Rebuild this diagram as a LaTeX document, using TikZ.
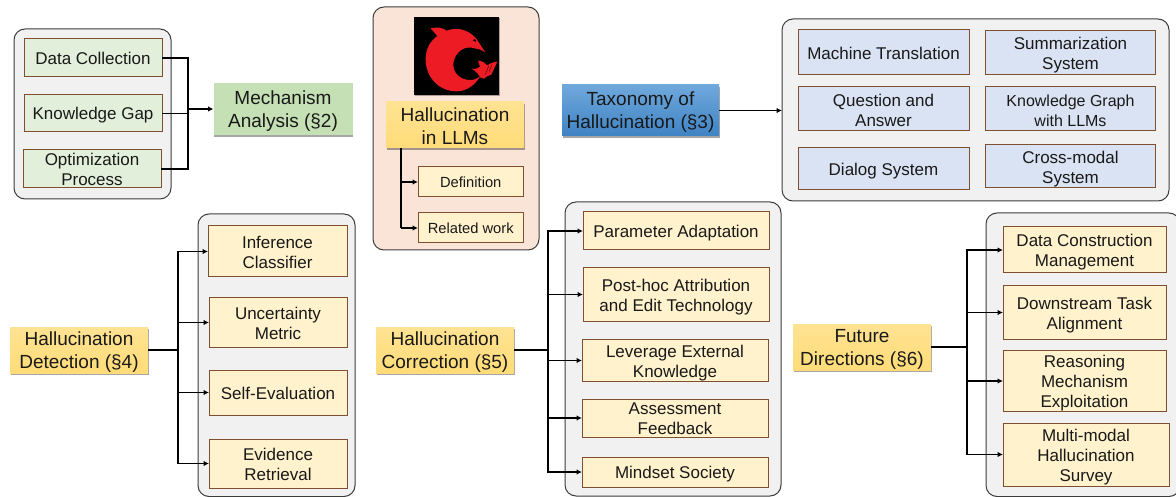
\documentclass[tikz,border=0pt]{standalone}
\usepackage{fontspec}
\setmainfont{Liberation Sans}
\usetikzlibrary{arrows.meta,shadows}
\definecolor{edgebrown}{HTML}{7F4F2F}
\definecolor{panelgray}{HTML}{F1F1F1}
\definecolor{paneledge}{HTML}{3C3C3C}
\definecolor{greenitem}{HTML}{E2EFDA}
\definecolor{greenhead}{HTML}{C5E0B4}
\definecolor{yellowitem}{HTML}{FFF2CC}
\definecolor{yellowtop}{HTML}{FFE393}
\definecolor{yellowbot}{HTML}{FFDC78}
\definecolor{blueitem}{HTML}{DAE3F3}
\definecolor{bluetop}{HTML}{6FA8DC}
\definecolor{bluebot}{HTML}{3F83C4}
\definecolor{pinkpanel}{HTML}{FAE3D7}
\definecolor{logored}{HTML}{ED1C24}
\tikzset{
  x=1pt,y=-1pt,
  boxbase/.style={inner sep=0pt,outer sep=0pt,align=center,text=black!90},
  smalltext/.style={font=\fontsize{17}{20}\selectfont},
  tinytext/.style={font=\fontsize{14.7}{18}\selectfont},
  bigtext/.style={font=\fontsize{19}{23}\selectfont},
  softshadow/.style={drop shadow={shadow xshift=0.6pt,shadow yshift=-1.6pt,opacity=.35,fill=black}},
  panel/.style={draw=paneledge,line width=1pt,fill=panelgray,rounded corners=11pt},
  pinkbox/.style={draw=paneledge,line width=1pt,fill=pinkpanel,rounded corners=11pt},
  greenbox/.style={boxbase,smalltext,draw=edgebrown,line width=1pt,fill=greenitem},
  yellowbox/.style={boxbase,smalltext,draw=edgebrown,line width=1pt,fill=yellowitem},
  tinybox/.style={boxbase,tinytext,draw=edgebrown,line width=1pt,fill=yellowitem},
  bluebox/.style={boxbase,smalltext,draw=edgebrown,line width=1pt,fill=blueitem},
  greenhead/.style={boxbase,bigtext,fill=greenhead,softshadow},
  yellowhead/.style={boxbase,bigtext,top color=yellowtop,bottom color=yellowbot,softshadow},
  bluehead/.style={boxbase,bigtext,top color=bluetop,bottom color=bluebot,softshadow},
  link/.style={line width=1.2pt,black},
  arrowlink/.style={link,-{Latex[length=5.5pt,width=5.5pt]}},
  stem/.style={line width=2pt,black},
}
% [text drop], name, x1, y1, x2, y2, style, text
\newcommand\bx[8][0]{\node[#7,minimum width=#5pt-#3pt,minimum height=#6pt-#4pt] (#2) at ({(#3+#5)/2},{(#4+#6)/2}) {\rule{0pt}{\dimexpr 0.73em+2\dimexpr #1pt\relax\relax}#8};}
\begin{document}
\begin{tikzpicture}
\useasboundingbox (0,0) rectangle (1176,497);
\clip (0,0) rectangle (1176,497);
% panels
\draw[panel] (14,29) rectangle (171,199);
\draw[pinkbox] (373,7) rectangle (539,250);
\draw[panel] (782,19) rectangle (1169,201);
\draw[panel] (198,214) rectangle (355,496.5);
\draw[panel] (565,202) rectangle (781,496);
\draw[panel] (986,213) rectangle (1180,496.5);
% logo
\fill[black,drop shadow={shadow xshift=0.6pt,shadow yshift=-1.2pt,opacity=.3,fill=black}] (414,17) rectangle (499,95);
\begin{scope}[shift={(400,0)},x=0.3333pt,y=-0.3333pt]
  \fill[logored] (92,85) .. controls (110,80) and (125,82) .. (140,92)
    .. controls (175,78) and (218,92) .. (238,130)
    .. controls (245,140) and (250,148) .. (256,157)
    .. controls (245,150) and (235,146) .. (224,145)
    .. controls (195,135) and (165,155) .. (160,190)
    .. controls (158,218) and (180,240) .. (210,240)
    .. controls (222,240) and (232,236) .. (240,230)
    .. controls (225,255) and (200,274) .. (170,274)
    .. controls (115,274) and (77,230) .. (77,178)
    .. controls (77,150) and (88,125) .. (112,108)
    .. controls (105,100) and (98,92) .. (92,85) -- cycle;
  \fill[logored] (214,206) .. controls (225,208) and (233,206) .. (240,200)
    -- (234,182) .. controls (245,182) and (255,188) .. (262,196)
    .. controls (270,190) and (280,186) .. (292,185)
    -- (274,224) .. controls (265,226) and (258,230) .. (252,236)
    -- (240,232) .. controls (236,222) and (226,212) .. (214,206) -- cycle;
  \fill[black] (218,121) -- (225,117) -- (229,126) -- cycle;
  \draw[black,line width=.25pt] (266,198) -- (256,224) (276,194) -- (267,216);
\end{scope}
% section heads
\bx[1.8]{mech}{213.5}{83}{352.5}{135}{greenhead}{Mechanism\\Analysis (§2)}
\bx[0.7]{hal}{386}{102}{524}{148}{yellowhead}{Hallucination\\in LLMs}
\bx[1.7]{tax}{562}{85}{719}{136}{bluehead}{Taxonomy of\\Hallucination (§3)}
\bx[2.2]{det}{10}{327}{148}{373}{yellowhead}{Hallucination\\Detection (§4)}
\bx[2.2]{cor}{376}{327}{514}{373}{yellowhead}{Hallucination\\Correction (§5)}
\bx[2]{fut}{793}{324}{931}{370}{yellowhead}{Future\\Directions (§6)}
% mechanism items
\bx{dc}{24}{39}{162}{77}{greenbox}{Data Collection}
\bx[2]{kg}{24}{95}{162}{132}{greenbox}{Knowledge Gap}
\bx{op}{23}{150}{161}{188}{greenbox}{Optimization\\Process}
% hallucination items
\bx{def}{418}{167}{523.5}{197}{tinybox}{Definition}
\bx{rel}{418}{213}{523.5}{243}{tinybox}{Related work}
% taxonomy items
\bx[1]{mt}{798}{30}{969}{75}{bluebox}{Machine Translation}
\bx[2]{sum}{985.5}{31}{1155.5}{75}{bluebox}{Summarization\\System}
\bx[1]{qa}{798}{87}{969}{131}{bluebox}{Question and\\Answer}
\bx[1.5]{kgl}{985.5}{87}{1155.5}{131}{bluebox}{\fontsize{16}{20}\selectfont Knowledge Graph\\\fontsize{16}{20}\selectfont with LLMs}
\bx[2]{dia}{798}{148}{969}{190}{bluebox}{Dialog System}
\bx[3]{cross}{985.5}{145}{1155.5}{188}{bluebox}{Cross-modal\\System}
% detection items
\bx[1]{inf}{208}{226}{347}{277}{yellowbox}{Inference\\Classifier}
\bx[1]{unc}{209}{298}{347}{347}{yellowbox}{Uncertainty\\Metric}
\bx[1]{self}{209}{370}{347}{415}{yellowbox}{Self-Evaluation}
\bx[1]{evi}{209}{439}{347}{488}{yellowbox}{Evidence\\Retrieval}
% correction items
\bx[2]{par}{583}{212}{769}{250}{yellowbox}{Parameter Adaptation}
\bx[3]{post}{583}{268}{769}{321}{yellowbox}{Post-hoc Attribution\\and Edit Technology}
\bx[3]{lev}{582}{340}{768}{381}{yellowbox}{Leverage External\\Knowledge}
\bx[0.4]{ass}{582}{399}{768}{437}{yellowbox}{Assessment\\Feedback}
\bx[2]{mind}{582}{457}{768}{487}{yellowbox}{Mindset Society}
% future items
\bx[2]{dat}{1003}{227}{1166}{273}{yellowbox}{Data Construction\\Management}
\bx[3]{down}{1003}{286}{1166}{339}{yellowbox}{Downstream Task\\Alignment}
\bx[2.5]{rea}{1003}{351}{1166}{411}{yellowbox}{Reasoning\\Mechanism\\Exploitation}
\bx[3]{mul}{1003}{423}{1169}{486}{yellowbox}{Multi-modal\\Hallucination\\Survey}
% bus coordinates
\coordinate (busm) at (188,109);
\coordinate (bush) at (401,182);
\coordinate (busd) at (178,350);
\coordinate (busc) at (548,350);
\coordinate (busf) at (967,347);
% connectors
\draw[link] (dc.east) -- (busm |- dc.east) -- (busm |- op.east) -- (op.east);
\draw[link] (kg.east) -- (busm |- kg.east);
\draw[arrowlink,line width=1.6pt] (busm) -- (mech.west);
\draw[link] (hal.south -| bush) -- (bush |- rel.west);
\draw[arrowlink] (bush |- def.west) -- (def.west);
\draw[arrowlink] (bush |- rel.west) -- (rel.west);
\draw[arrowlink] (tax.east) -- (tax.east -| 782,0);
\draw[stem] (det.east) -- (busd);
\foreach \t in {inf,unc,self,evi} \draw[arrowlink] (busd) |- (\t.west);
\draw[stem] (cor.east) -- (busc);
\foreach \t in {par,post,lev,ass,mind} \draw[arrowlink] (busc) |- (\t.west);
\draw[stem] (fut.east) -- (busf);
\foreach \t in {dat,down,rea,mul} \draw[arrowlink] (busf) |- (\t.west);
\end{tikzpicture}
\end{document}
